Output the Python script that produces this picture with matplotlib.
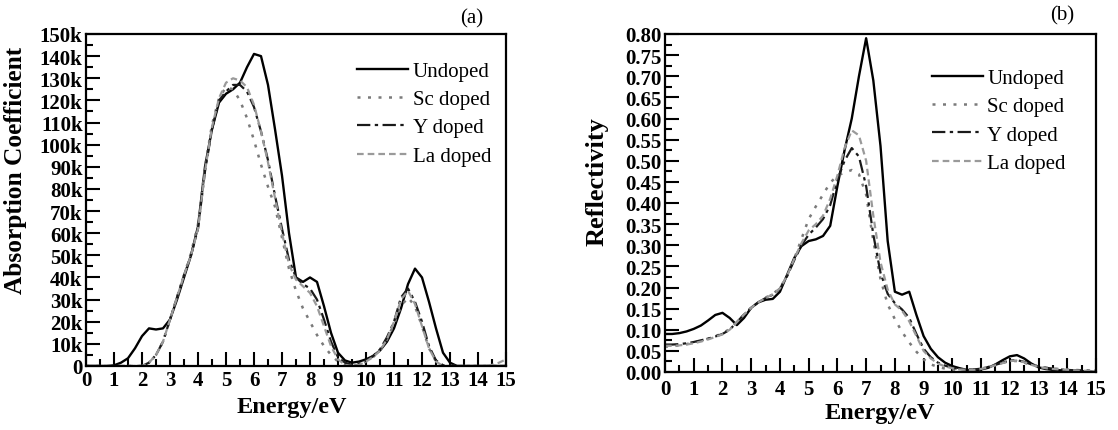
import numpy as np
import matplotlib
matplotlib.use("Agg")
import matplotlib.pyplot as plt
from matplotlib.ticker import MultipleLocator, FuncFormatter

# ---------------- data ----------------
energy = np.arange(0, 15.001, 0.25)

# Absorption coefficient (in units of 1k)
abs_undoped = [0, 0, 0, 0, 0.3, 1.5, 3.5, 8, 13.5, 17, 16.5, 17,
               21, 30, 40, 50, 63, 90, 107, 119, 123, 125, 128, 135,
               141, 140, 127, 107, 86, 60, 40, 38, 40, 38, 27, 15,
               6, 2.5, 1.5, 2, 3, 4.5, 7, 11, 17, 26, 37, 44,
               40, 29, 17, 6, 1.5, 0, 0, 0, 0, 0, 0, 0, 0]
abs_sc = [0, 0, 0, 0, 0, 0, 0, 0, 0, 1.5, 5, 11,
          21, 31, 41, 51, 64, 90, 109, 121, 126, 125, 120, 112,
          102, 91, 81, 72, 58, 44, 34, 26, 20, 14, 9, 5,
          2, 0.5, 0, 0.5, 2, 4, 7, 12, 19, 27, 31, 27,
          18, 8, 2, 0.3, 0, 0, 0, 0, 0, 0, 0, 0, 0]
abs_y = [0, 0, 0, 0, 0, 0, 0, 0, 0, 1.5, 5, 11,
         21, 31, 41, 50, 62, 88, 107, 120, 124, 127, 127, 124,
         117, 106, 93, 77, 62, 48, 40, 37, 35, 30, 21, 11,
         4, 1.5, 0.5, 1, 2.5, 4.5, 7.5, 13, 20, 31, 35, 29,
         20, 9, 2.5, 0.3, 0, 0, 0, 0, 0, 0, 0, 0, 0]
abs_la = [0, 0, 0, 0, 0, 0, 0, 0, 0, 1.5, 5, 11,
          21, 31, 41, 50, 62, 88, 108, 121, 128, 130, 129, 126,
          118, 106, 92, 76, 60, 46, 39, 36, 33, 27, 18, 9,
          3, 0.5, 0, 0.5, 2, 4, 7, 12, 20, 30, 34, 28,
          18, 8, 2, 0, 0, 0, 0, 0, 0, 0, 0.5, 1.5, 3]

# Reflectivity
ref_undoped = [0.090, 0.090, 0.092, 0.096, 0.102, 0.110, 0.122, 0.135,
               0.140, 0.128, 0.111, 0.128, 0.152, 0.165, 0.171, 0.173,
               0.190, 0.230, 0.270, 0.298, 0.310, 0.314, 0.322, 0.346,
               0.440, 0.525, 0.600, 0.700, 0.790, 0.690, 0.535, 0.310,
               0.190, 0.183, 0.190, 0.135, 0.085, 0.055, 0.035, 0.022,
               0.014, 0.009, 0.005, 0.004, 0.006, 0.010, 0.018, 0.028,
               0.037, 0.040, 0.032, 0.020, 0.011, 0.007, 0.005, 0.004,
               0.003, 0.003, 0.002, 0.001, 0.000]
ref_sc = [0.060, 0.061, 0.063, 0.066, 0.070, 0.074, 0.079, 0.085,
          0.091, 0.102, 0.118, 0.136, 0.152, 0.165, 0.176, 0.185,
          0.198, 0.228, 0.268, 0.315, 0.362, 0.392, 0.420, 0.448,
          0.465, 0.472, 0.478, 0.468, 0.420, 0.310, 0.220, 0.160,
          0.125, 0.095, 0.070, 0.048, 0.030, 0.018, 0.012, 0.008,
          0.006, 0.005, 0.005, 0.006, 0.008, 0.012, 0.017, 0.022,
          0.026, 0.026, 0.022, 0.017, 0.013, 0.010, 0.008, 0.007,
          0.006, 0.005, 0.004, 0.003, 0.003]
ref_y = [0.065, 0.065, 0.066, 0.068, 0.071, 0.075, 0.079, 0.084,
         0.090, 0.100, 0.118, 0.136, 0.152, 0.165, 0.175, 0.183,
         0.197, 0.227, 0.265, 0.300, 0.325, 0.342, 0.362, 0.395,
         0.455, 0.500, 0.530, 0.510, 0.440, 0.325, 0.235, 0.185,
         0.163, 0.148, 0.128, 0.090, 0.055, 0.035, 0.022, 0.015,
         0.010, 0.007, 0.006, 0.006, 0.008, 0.012, 0.017, 0.022,
         0.027, 0.028, 0.024, 0.018, 0.013, 0.010, 0.008, 0.006,
         0.005, 0.004, 0.004, 0.003, 0.003]
ref_la = [0.062, 0.062, 0.063, 0.065, 0.068, 0.072, 0.077, 0.083,
          0.089, 0.100, 0.118, 0.136, 0.152, 0.165, 0.175, 0.184,
          0.198, 0.228, 0.268, 0.305, 0.335, 0.350, 0.370, 0.410,
          0.465, 0.530, 0.572, 0.560, 0.500, 0.370, 0.260, 0.195,
          0.160, 0.145, 0.120, 0.085, 0.050, 0.032, 0.020, 0.013,
          0.009, 0.006, 0.005, 0.005, 0.007, 0.011, 0.016, 0.021,
          0.026, 0.027, 0.023, 0.017, 0.012, 0.009, 0.007, 0.006,
          0.005, 0.004, 0.003, 0.003, 0.002]

labels = ["Undoped", "Sc doped", "Y doped", "La doped"]

# ---------------- style ----------------
plt.rcParams['font.family'] = ['Liberation Serif', 'DejaVu Serif']
plt.rcParams['font.weight'] = 'bold'

styles = [
    dict(color='black', lw=1.7, ls='-'),
    dict(color='#7a7a7a', lw=1.8, ls=(0, (1.2, 3.0))),
    dict(color='#1a1a1a', lw=1.6, ls=(0, (6, 2, 1.5, 2))),
    dict(color='#9a9a9a', lw=1.6, ls=(0, (3, 1.8))),
]

W, H = 1118, 431
fig = plt.figure(figsize=(W / 100, H / 100), dpi=100)

def px_axes(x0, x1, ytop, ybot):
    return fig.add_axes([x0 / W, 1 - ybot / H, (x1 - x0) / W, (ybot - ytop) / H])

axA = px_axes(86, 506, 35, 367)
axB = px_axes(665, 1096, 35, 373)

def style_axes(ax, xpad):
    for s in ax.spines.values():
        s.set_linewidth(1.6)
    ax.tick_params(which='both', direction='in', top=False, right=False,
                   width=1.5, labelsize=15)
    ax.tick_params(which='major', length=10)
    ax.tick_params(which='minor', length=5)
    ax.tick_params(axis='x', which='major', pad=xpad)
    ax.tick_params(axis='y', which='major', pad=2.5)
    ax.set_xlim(0, 15)
    ax.xaxis.set_major_locator(MultipleLocator(1))
    ax.xaxis.set_minor_locator(MultipleLocator(0.5))

# Panel (a)
for vals, lab, st in zip([abs_undoped, abs_sc, abs_y, abs_la], labels, styles):
    axA.plot(energy, vals, label=lab, **st)
axA.set_ylim(0, 150)
axA.yaxis.set_major_locator(MultipleLocator(10))
axA.yaxis.set_minor_locator(MultipleLocator(5))
axA.yaxis.set_major_formatter(FuncFormatter(lambda v, p: "0" if v == 0 else f"{int(round(v))}k"))
style_axes(axA, 3.0)

# Panel (b)
for vals, lab, st in zip([ref_undoped, ref_sc, ref_y, ref_la], labels, styles):
    axB.plot(energy, vals, label=lab, **st)
axB.set_ylim(0, 0.80)
axB.yaxis.set_major_locator(MultipleLocator(0.05))
axB.yaxis.set_minor_locator(MultipleLocator(0.025))
axB.yaxis.set_major_formatter(FuncFormatter(lambda v, p: f"{v:.2f}"))
style_axes(axB, 5.0)

for ax, anchor in [(axA, (0.645, 0.918)), (axB, (0.619, 0.898))]:
    ax.legend(loc='upper left', bbox_to_anchor=anchor, frameon=False,
              prop={'size': 15, 'weight': 'normal'},
              handlelength=2.45, handletextpad=0.22,
              labelspacing=0.42, borderpad=0, borderaxespad=0)

# axis labels
fig.text(16 / W, 1 - 170 / H, "Absorption Coefficient", rotation=90,
         fontsize=18.3, fontweight='bold', ha='center', va='center')
fig.text(597 / W, 1 - 182 / H, "Reflectivity", rotation=90,
         fontsize=19, fontweight='bold', ha='center', va='center')
fig.text(292 / W, 1 - 408 / H, "Energy/eV", fontsize=17.5,
         fontweight='bold', ha='center', va='center')
fig.text(880 / W, 1 - 414 / H, "Energy/eV", fontsize=17.5,
         fontweight='bold', ha='center', va='center')
fig.text(472 / W, 1 - 19 / H, "(a)", fontsize=15, fontweight='normal',
         ha='center', va='center')
fig.text(1062 / W, 1 - 16 / H, "(b)", fontsize=15, fontweight='normal',
         ha='center', va='center')

fig.savefig("out.png", dpi=100)
